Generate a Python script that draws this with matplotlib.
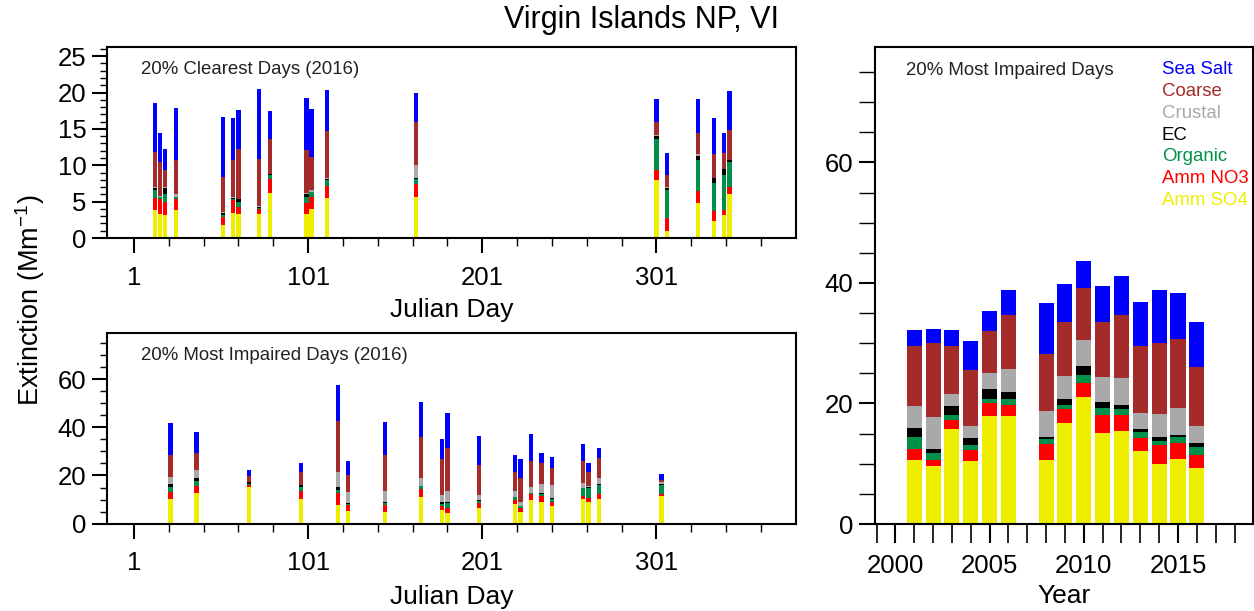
import matplotlib
matplotlib.use("Agg")
import matplotlib.pyplot as plt
import numpy as np
from matplotlib.ticker import MultipleLocator, FixedLocator

plt.rcParams['font.family'] = ['Liberation Sans', 'DejaVu Sans']
plt.rcParams['mathtext.default'] = 'regular'

# ---------------- data ----------------
species = ["Amm SO4", "Amm NO3", "Organic", "EC", "Crustal", "Coarse", "Sea Salt"]
colors = ["#EEEE00", "#FF0000", "#00904A", "#000000", "#A9A9A9", "#A52A2A", "#0000FF"]

# 20% clearest days (2016)
days_clear = [13, 16, 19, 25, 52, 58, 61, 73, 79, 100, 103, 112, 163, 301, 307, 325, 334, 340, 343]
so4_c = [3.8, 3.3, 3.2, 3.8, 1.8, 3.5, 3.3, 3.3, 6.2, 3.3, 4.0, 5.5, 5.7, 8.0, 0.9, 4.8, 2.4, 3.1, 6.05]
no3_c = [1.7, 2.0, 1.7, 1.5, 1.1, 1.7, 1.0, 0.7, 1.85, 1.5, 1.6, 1.7, 1.7, 1.3, 1.8, 1.6, 1.25, 0.8, 0.95]
org_c = [1.1, 0.3, 1.2, 0.3, 0.3, 0.2, 0.6, 0.1, 0.6, 0.85, 0.7, 0.75, 0.7, 4.3, 3.9, 4.3, 3.85, 4.75, 3.4]
ec_c = [0.3, 0.1, 0.8, 0.1, 0.3, 0.1, 0.4, 0.1, 0.15, 0.4, 0.05, 0.15, 0.2, 0.4, 0.3, 0.6, 0.7, 0.85, 0.3]
crus_c = [0.1, 0.1, 0.1, 0.3, 0.1, 0.1, 0.1, 0.2, 0.05, 0.1, 0.2, 0.1, 1.8, 0.2, 0.05, 0.3, 0.05, 0.05, 0.05]
coarse_c = [4.8, 4.6, 2.3, 4.7, 4.8, 5.1, 6.9, 6.5, 4.8, 5.9, 4.6, 6.5, 5.8, 1.8, 1.7, 2.8, 3.3, 2.15, 4.15]
sea_c = [6.7, 4.0, 2.9, 7.2, 8.2, 5.8, 5.3, 9.6, 3.8, 7.2, 6.6, 5.6, 4.0, 3.1, 3.05, 4.7, 5.0, 2.7, 5.3]

# 20% most impaired days (2016)
days_imp = [22, 37, 67, 97, 118, 124, 145, 166, 178, 181, 199, 220, 223, 229, 235, 241, 259, 262, 268, 304]
so4_i = [10.2, 12.8, 15.2, 10.2, 7.8, 5.3, 5.0, 10.9, 5.7, 4.3, 6.7, 8.1, 4.8, 10.0, 9.2, 7.3, 10.2, 9.2, 10.2, 11.3]
no3_i = [2.9, 3.0, 0.7, 3.5, 4.8, 2.5, 2.8, 3.7, 1.8, 2.4, 1.8, 1.8, 1.9, 2.3, 2.4, 1.9, 1.1, 1.4, 2.1, 1.0]
org_i = [2.0, 1.8, 0.7, 1.4, 1.5, 0.5, 0.6, 0.9, 0.6, 1.7, 1.0, 1.0, 0.5, 0.3, 0.6, 1.0, 3.6, 4.3, 3.7, 3.7]
ec_i = [1.4, 1.4, 0.6, 0.8, 1.0, 0.2, 0.6, 0.3, 0.7, 0.4, 0.5, 0.1, 0.1, 0.1, 0.5, 0.6, 0.1, 0.4, 0.6, 0.6]
crus_i = [2.9, 3.2, 0.1, 0.2, 6.2, 4.6, 4.6, 3.0, 3.2, 4.8, 2.1, 2.6, 1.9, 2.7, 3.8, 5.1, 2.0, 0.3, 2.2, 0.6]
coarse_i = [9.1, 7.2, 2.6, 5.4, 21.3, 7.3, 14.9, 17.1, 14.7, 17.8, 12.1, 7.7, 9.6, 10.5, 8.6, 7.3, 9.2, 5.8, 8.3, 1.1]
sea_i = [13.1, 8.7, 2.4, 3.8, 15.0, 5.7, 13.5, 14.7, 8.6, 14.4, 12.0, 7.3, 7.9, 11.2, 4.3, 4.3, 6.7, 3.8, 4.3, 2.4]

# annual 20% most impaired days
years = [2001, 2002, 2003, 2004, 2005, 2006, 2008, 2009, 2010, 2011, 2012, 2013, 2014, 2015, 2016]
so4_y = [10.7, 9.6, 15.8, 10.4, 17.9, 17.9, 10.7, 16.7, 21.1, 15.1, 15.4, 12.1, 10.0, 10.8, 9.3]
no3_y = [1.8, 1.0, 1.5, 1.9, 2.1, 1.9, 2.6, 2.3, 2.3, 3.0, 2.7, 2.1, 3.1, 2.7, 2.2]
org_y = [1.9, 1.1, 0.8, 0.8, 0.8, 1.0, 0.8, 0.8, 1.4, 1.2, 1.0, 1.0, 0.7, 0.9, 1.3]
ec_y = [1.6, 0.7, 1.4, 1.1, 1.6, 1.1, 0.4, 1.0, 1.5, 0.9, 0.7, 0.5, 0.6, 0.4, 0.7]
crus_y = [3.6, 5.3, 2.0, 2.1, 2.7, 3.8, 4.3, 3.8, 4.2, 4.2, 4.5, 2.7, 3.8, 4.4, 2.8]
coarse_y = [10.0, 12.3, 8.1, 9.3, 7.0, 8.9, 9.4, 9.0, 8.7, 9.2, 10.3, 11.2, 11.8, 11.5, 9.8]
sea_y = [2.6, 2.4, 2.6, 4.7, 3.2, 4.2, 8.5, 6.2, 4.5, 5.9, 6.5, 7.2, 8.8, 7.7, 7.5]

legend_names = ["Sea Salt", "Coarse", "Crustal", "EC", "Organic", "Amm NO3", "Amm SO4"]
legend_cols = ["#0000FF", "#A52A2A", "#A9A9A9", "#000000", "#00904A", "#FF0000", "#EEEE00"]

# ---------------- figure ----------------
W, H = 1254, 611
fig = plt.figure(figsize=(W / 100, H / 100), dpi=100)


def rect(l, t, r, b):
    return [l / W, 1 - b / H, (r - l) / W, (b - t) / H]


ax1 = fig.add_axes(rect(107.3, 46.7, 796, 238))
ax2 = fig.add_axes(rect(107.3, 333.3, 796, 523.7))
ax3 = fig.add_axes(rect(875, 46.7, 1253, 524))


def stack(ax, x, series, width):
    bottom = np.zeros(len(x))
    for vals, col in zip(series, colors):
        vals = np.asarray(vals, dtype=float)
        ax.bar(x, vals, width=width, bottom=bottom, color=col, linewidth=0, align='center')
        bottom += vals


stack(ax1, days_clear, [so4_c, no3_c, org_c, ec_c, crus_c, coarse_c, sea_c], 2.5)
stack(ax2, days_imp, [so4_i, no3_i, org_i, ec_i, crus_i, coarse_i, sea_i], 2.5)
stack(ax3, years, [so4_y, no3_y, org_y, ec_y, crus_y, coarse_y, sea_y], 0.8)

lw = 1.5
TL = 18.5
for ax in (ax1, ax2, ax3):
    for s in ax.spines.values():
        s.set_linewidth(lw)
    ax.tick_params(which='both', direction='out', labelsize=TL, colors='black')

for ax in (ax1, ax2):
    ax.set_xlim(-14.3, 381.2)
    ax.xaxis.set_major_locator(FixedLocator([1, 101, 201, 301]))
    ax.xaxis.set_minor_locator(FixedLocator(list(range(21, 381, 20))))
    ax.tick_params(axis='x', which='major', length=11, width=1.5, pad=9)
    ax.tick_params(axis='x', which='minor', length=6, width=1.0)
    ax.tick_params(axis='y', which='major', length=11, width=1.5, pad=4)
    ax.tick_params(axis='y', which='minor', length=5, width=1.0)

ax1.set_ylim(0, 26.3)
ax1.yaxis.set_major_locator(MultipleLocator(5))
ax1.yaxis.set_minor_locator(MultipleLocator(1))

ax2.set_ylim(0, 79)
ax2.yaxis.set_major_locator(FixedLocator([0, 20, 40, 60]))
ax2.yaxis.set_minor_locator(MultipleLocator(5))

ax3.set_xlim(1998.92, 2018.98)
ax3.set_ylim(0, 79.2)
ax3.xaxis.set_major_locator(FixedLocator([2000, 2005, 2010, 2015]))
ax3.xaxis.set_minor_locator(MultipleLocator(1))
ax3.yaxis.set_major_locator(FixedLocator([0, 20, 40, 60]))
ax3.yaxis.set_minor_locator(MultipleLocator(5))
ax3.tick_params(axis='x', which='major', length=13.5, width=1.5, pad=8)
ax3.tick_params(axis='x', which='minor', length=13.5, width=1.2)
ax3.tick_params(axis='y', which='major', length=11.5, width=1.5, pad=4)
ax3.tick_params(axis='y', which='minor', length=11.5, width=1.0)

# panel annotations
PT = 13.4
fig.text(140.7 / W, 1 - 70 / H, "20% Clearest Days (2016)", fontsize=PT, va='center', ha='left',
         color='#222222')
fig.text(140.7 / W, 1 - 356 / H, "20% Most Impaired Days (2016)", fontsize=PT, va='center', ha='left',
         color='#222222')
fig.text(906 / W, 1 - 70.5 / H, "20% Most Impaired Days", fontsize=PT, va='center', ha='left',
         color='#222222')

# legend as coloured text
for i, (nm, c) in enumerate(zip(legend_names, legend_cols)):
    fig.text(1161.7 / W, 1 - (69.3 + 21.9 * i) / H, nm, color=c, fontsize=PT, va='center', ha='left')

# axis labels and title
fig.text(451.5 / W, 1 - 310 / H, "Julian Day", fontsize=19, ha='center', va='center')
fig.text(451.5 / W, 1 - 597 / H, "Julian Day", fontsize=19, ha='center', va='center')
fig.text(1064.5 / W, 1 - 596 / H, "Year", fontsize=19, ha='center', va='center')
fig.text(30 / W, 1 - 300 / H, "Extinction (Mm$^{-1}$)", fontsize=19.5, ha='center', va='center', rotation=90)
fig.text(641 / W, 1 - 20 / H, "Virgin Islands NP, VI", fontsize=22, ha='center', va='center')

fig.savefig("out.png", dpi=100)
